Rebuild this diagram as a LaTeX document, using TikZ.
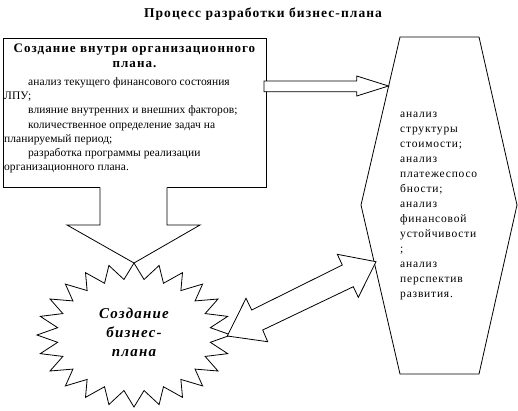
\documentclass[tikz,border=0pt]{standalone}
\usepackage{fontspec}
\setmainfont{Liberation Serif}
\newfontfamily\bodyf[LetterSpace=0.5]{Liberation Serif}
\newfontfamily\hexf[LetterSpace=7]{Liberation Serif}
\newfontfamily\headf[LetterSpace=8]{Liberation Serif}
\begin{document}
\begin{tikzpicture}[x=1pt,y=-1pt,
  shape line/.style={draw=black,line width=0.8pt,fill=white,line join=miter},
  bodytxt/.style={inner sep=0pt,anchor=base west,font=\fontsize{11.5}{14}\bodyf},
  hextxt/.style={inner sep=0pt,anchor=base west,font=\fontsize{11.5}{14}\hexf},
  boxhead/.style={inner sep=0pt,anchor=base,font=\fontsize{13}{15}\headf\bfseries},
  startxt/.style={inner sep=0pt,anchor=base,font=\fontsize{15}{19}\headf\bfseries\itshape}]
\useasboundingbox (0,0) rectangle (518,410);
% title
\node[inner sep=0pt,anchor=base,font=\fontsize{13.5}{16}\headf\bfseries] (title) at (263,17) {Процесс разработки бизнес-плана};
% organisational box
\draw[shape line] (3,38) rectangle (266,187);
\node[boxhead] (bh1) at (134.5,52) {Создание внутри организационного};
\node[boxhead] (bh2) at (134.5,67) {плана.};
\node[bodytxt] (b1) at (28,85.5) {анализ текущего финансового состояния};
\node[bodytxt] (b2) at (4,99.7) {ЛПУ;};
\node[bodytxt] (b3) at (28,113.9) {влияние внутренних и внешних факторов;};
\node[bodytxt] (b4) at (28,128.1) {количественное определение задач на};
\node[bodytxt] (b5) at (4,142.3) {планируемый период;};
\node[bodytxt] (b6) at (28,156.5) {разработка программы реализации};
\node[bodytxt] (b7) at (4,170.7) {организационного плана.};
% hexagon
\draw[shape line] (400,37) -- (479,37) -- (517,205) -- (479,374) -- (400,374) -- (361,205) -- cycle;
\node[hextxt] (h1) at (400,117.5) {анализ};
\node[hextxt] (h2) at (400,132.5) {структуры};
\node[hextxt] (h3) at (400,147.5) {стоимости;};
\node[hextxt] (h4) at (400,162.5) {анализ};
\node[hextxt] (h5) at (400,177.5) {платежеспосо};
\node[hextxt] (h6) at (400,192.5) {бности;};
\node[hextxt] (h7) at (400,207.5) {анализ};
\node[hextxt] (h8) at (400,222.5) {финансовой};
\node[hextxt] (h9) at (400,237.5) {устойчивости};
\node[hextxt] (h10) at (400,252.5) {;};
\node[hextxt] (h11) at (400,267.5) {анализ};
\node[hextxt] (h12) at (400,282.5) {перспектив};
\node[hextxt] (h13) at (400,297.5) {развития.};
% right block arrow from box to hexagon
\draw[shape line] (264,81) -- (356.7,81) -- (356.7,76) -- (388.5,86) -- (356.7,96) -- (356.7,91.7) -- (264,91.7) -- cycle;
% down block arrow from box to star
\fill[white] (100,186) -- (167,186) -- (167,225) -- (200,225) -- (134,263) -- (67,225) -- (100,225) -- cycle;
\draw[line width=0.8pt,line join=miter] (100,187.4) -- (100,225) -- (67,225) -- (134,263) -- (200,225) -- (167,225) -- (167,187.4);
% star
\draw[shape line] (134,263)
  \foreach \k in {1,...,47} { -- ({134+(mod(\k,2)==0?97:77)*sin(\k*7.5)},{335-(mod(\k,2)==0?72:56)*cos(\k*7.5)}) } -- cycle;
\node[startxt] (s1) at (134,318) {Создание};
\node[startxt] (s2) at (134,337) {бизнес-};
\node[startxt] (s3) at (134,356) {плана};
% double block arrow between star and hexagon
\draw[shape line] (376,261.7) -- (337.3,254.3) -- (342.3,265) -- (251.7,310) -- (246,298.3) -- (227.3,336) -- (267.7,341.7) -- (262.7,330) -- (353.3,286.7) -- (358.3,297.3) -- cycle;
\end{tikzpicture}
\end{document}
